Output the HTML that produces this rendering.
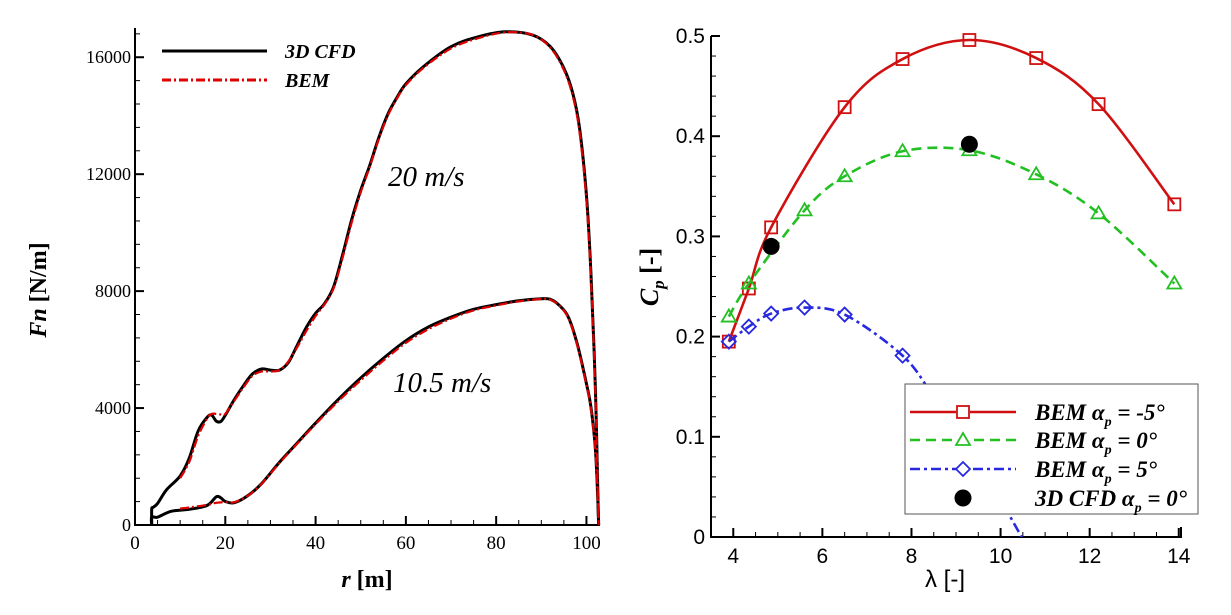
<!DOCTYPE html>
<html><head><meta charset="utf-8">
<style>
html,body{margin:0;padding:0;background:#fff;width:1231px;height:615px;overflow:hidden}
svg{display:block}
.serif{font-family:"Liberation Serif",serif}
.sans{font-family:"Liberation Sans",sans-serif}
</style></head>
<body>
<svg id="fig" width="1231" height="615" viewBox="0 0 1231 615" xmlns="http://www.w3.org/2000/svg">
  <g id="left"></g>
  <g id="right"></g>
</svg>
<script>
// ---------- Left chart data ----------
const r20Cfd = [3.7,3.7,4,5,7,10,12,14,16,17,18,19,20,22,24,26,28,30,32,34,36,38,40,42,44,46,48,50,52,54,56,58,60,64,70,76,82,88,92,95,97,98.5,100,101,102,102.6,102.7];
const fn20Cfd = [0,536,600,737,1207,1676,2280,3218,3688,3755,3554,3540,3755,4292,4761,5164,5338,5298,5298,5566,6169,6773,7242,7578,8150,9250,10450,11450,12300,13250,14050,14618,15090,15692,16362,16697,16870,16764,16362,15625,14752,13545,11265,8580,4560,536,0];
const r20Bem = [10,12,14,16,17,18,19,20,22,24,26,28,30,32,34,36,38,40,42,44,46,48,50,52,54,56,58,60,64,70,76,82,88,92,95,97,98.5,100,101,102,102.6,102.7];
const fn20Bem = [1600,2150,3050,3650,3800,3800,3780,3800,4250,4700,5100,5250,5250,5300,5600,6100,6650,7150,7550,8100,9150,10350,11380,12250,13200,14000,14580,15050,15650,16300,16650,16850,16770,16330,15560,14650,13400,11100,8400,4400,600,0];
const r10Cfd = [3.7,3.7,5,8,12,16,18,19,20,22,25,28,32,36,40,45,50,55,60,65,70,75,80,85,90,92,94,96,98,100,101,102,102.6,102.7];
const fn10Cfd = [0,268,268,469,536,670,966,930,805,764,1006,1408,2146,2816,3487,4292,5030,5700,6304,6773,7108,7377,7538,7672,7739,7720,7511,7108,6169,4828,4024,2548,536,0];
const r10Bem = [10,12,16,18,20,22,25,28,32,36,40,45,50,55,60,65,70,75,80,85,90,92,94,96,98,100,101,102,102.6,102.7];
const fn10Bem = [560,600,690,760,780,780,1000,1400,2120,2790,3450,4230,4950,5620,6230,6700,7060,7340,7510,7650,7730,7710,7500,7080,6130,4780,3980,2500,500,0];
const lxTicks = [0,20,40,60,80,100];
const lyTicks = [0,4000,8000,12000,16000];

// ---------- Right chart data ----------
const lamRed = [3.9,4.35,4.85,6.5,7.8,9.3,10.8,12.2,13.9];
const cpRed = [0.195,0.248,0.309,0.429,0.477,0.496,0.478,0.432,0.332];
const lamGreen = [3.9,4.35,5.6,6.5,7.8,9.3,10.8,12.2,13.9];
const cpGreen = [0.22,0.253,0.326,0.36,0.385,0.386,0.362,0.323,0.253];
const lamBlue = [3.9,4.35,4.85,5.6,6.5,7.8,8.5,9.5,10.6];
const cpBlue = [0.195,0.21,0.223,0.229,0.222,0.181,0.14,0.075,-0.01];
const blueMarkerCount = 6;
const lamCfd = [4.85,9.3];
const cpCfd = [0.29,0.392];
const rxTicks = [4,6,8,10,12,14];
const ryTicks = [0,0.1,0.2,0.3,0.4,0.5];

const NS = "http://www.w3.org/2000/svg";
function mk(parent, tag, attrs){
  const e = document.createElementNS(NS, tag);
  for (const k in attrs) e.setAttribute(k, attrs[k]);
  parent.appendChild(e);
  return e;
}
function smoothPath(pts){
  let d = "M" + pts[0][0].toFixed(2) + "," + pts[0][1].toFixed(2);
  for (let i=0;i<pts.length-1;i++){
    const p0 = pts[Math.max(0,i-1)], p1 = pts[i], p2 = pts[i+1], p3 = pts[Math.min(pts.length-1,i+2)];
    const c1 = [p1[0]+(p2[0]-p0[0])/6, p1[1]+(p2[1]-p0[1])/6];
    const c2 = [p2[0]-(p3[0]-p1[0])/6, p2[1]-(p3[1]-p1[1])/6];
    d += " C"+c1[0].toFixed(2)+","+c1[1].toFixed(2)+" "+c2[0].toFixed(2)+","+c2[1].toFixed(2)+" "+p2[0].toFixed(2)+","+p2[1].toFixed(2);
  }
  return d;
}

// ================= LEFT =================
(function(){
  const g = document.getElementById('left');
  const X0=135, X1=600, Y0=525, Y1=28;
  const xMin=0, xMax=103, yMin=0, yMax=17000;
  const sx = v => X0 + (v-xMin)/(xMax-xMin)*(X1-X0);
  const sy = v => Y0 - (v-yMin)/(yMax-yMin)*(Y0-Y1);
  const clip = mk(g,'clipPath',{id:'clipL'});
  mk(clip,'rect',{x:X0,y:Y1,width:X1-X0+5,height:Y0-Y1});
  const frame = mk(g,'path',{d:`M${X0},${Y1} L${X0},${Y0} L${X1},${Y0}`,fill:'none',stroke:'#000','stroke-width':2});
  
  
  for (let v=0; v<=xMax; v+=5){
    const big = v%20===0;
    const t = mk(g,'line',{x1:sx(v),x2:sx(v),y1:Y0,y2:Y0-(big?9:5),stroke:'#000','stroke-width':big?2:1});
    
    
  }
  for (let v=0; v<=yMax; v+=800){
    const big = v%4000===0;
    const t = mk(g,'line',{x1:X0,x2:X0+(big?9:5),y1:sy(v),y2:sy(v),stroke:'#000','stroke-width':big?2:1});
    
    
  }
  lxTicks.forEach(v=>{
    const t = mk(g,'text',{x:sx(v),y:Y0+24,'text-anchor':'middle','font-size':19,class:'serif'});
    t.textContent = v;
    
    
  });
  lyTicks.forEach(v=>{
    const t = mk(g,'text',{x:X0-4,y:sy(v)+6,'text-anchor':'end','font-size':18,class:'serif'});
    t.textContent = v;
    
    
  });
  const xt = mk(g,'text',{x:367,y:587,'text-anchor':'middle','font-size':24,'font-weight':'bold',class:'serif'});
  xt.innerHTML = '<tspan font-style="italic">r</tspan> [m]';
  
  
  const yt = mk(g,'text',{x:0,y:0,'text-anchor':'middle','font-size':24,'font-weight':'bold',class:'serif',transform:'translate(46,290) rotate(-90)'});
  yt.innerHTML = '<tspan font-style="italic">Fn</tspan> [N/m]';
  
  

  const series = [
    [r20Cfd,fn20Cfd,'#000','none',3,'cfd-20-line'],
    [r10Cfd,fn10Cfd,'#000','none',3,'cfd-10-line'],
    [r20Bem,fn20Bem,'#d00','9,3,2,3',2.2,'bem-20-line'],
    [r10Bem,fn10Bem,'#d00','9,3,2,3',2.2,'bem-10-line']
  ];
  series.forEach(s=>{
    const pts = s[0].map((x,i)=>[sx(x),sy(s[1][i])]);
    const p = mk(g,'path',{d:smoothPath(pts),fill:'none',stroke:s[2],'stroke-width':s[4],'stroke-dasharray':s[3],'clip-path':'url(#clipL)','stroke-linejoin':'round'});
    
    
  });
  const a1 = mk(g,'text',{x:388,y:186,'font-size':29,'font-style':'italic',class:'serif'});
  a1.textContent='20 m/s';
  
  
  const a2 = mk(g,'text',{x:393,y:392,'font-size':29,'font-style':'italic',class:'serif'});
  a2.textContent='10.5 m/s';
  
  
  const lg = mk(g,'g',{});
  
  
  mk(lg,'line',{x1:162,x2:267,y1:51,y2:51,stroke:'#000','stroke-width':3});
  mk(lg,'line',{x1:162,x2:267,y1:80,y2:80,stroke:'#d00','stroke-width':3,'stroke-dasharray':'9,3,2,3'});
  const l1 = mk(lg,'text',{x:285,y:58,'font-size':20,'font-weight':'bold','font-style':'italic',class:'serif'});
  l1.textContent='3D CFD';
  
  
  const l2 = mk(lg,'text',{x:285,y:87,'font-size':20,'font-weight':'bold','font-style':'italic',class:'serif'});
  l2.textContent='BEM';
  
  
})();

// ================= RIGHT =================
(function(){
  const g = document.getElementById('right');
  const X0=711, X1=1181, Y0=537, Y1=36;
  const xMin=3.5, xMax=14.05, yMin=0, yMax=0.5;
  const sx = v => X0 + (v-xMin)/(xMax-xMin)*(X1-X0);
  const sy = v => Y0 - (v-yMin)/(yMax-yMin)*(Y0-Y1);
  const clip = mk(g,'clipPath',{id:'clipR'});
  mk(clip,'rect',{x:X0,y:Y1-10,width:X1-X0+10,height:Y0-Y1+10});
  const frame = mk(g,'path',{d:`M${X0},${Y1} L${X0},${Y0} L${X1},${Y0} L${X1},${Y0-10}`,fill:'none',stroke:'#000','stroke-width':2});
  
  
  for (let v=4; v<=14.001; v+=0.5){
    const big = Math.abs(v-Math.round(v/2)*2)<1e-6;
    const t = mk(g,'line',{x1:sx(v),x2:sx(v),y1:Y0,y2:Y0-(big?9:5),stroke:'#000','stroke-width':big?2:1});
    
    
  }
  for (let i=0;i<=25;i++){
    const v=i*0.02, big=i%5===0;
    const t = mk(g,'line',{x1:X0,x2:X0+(big?9:5),y1:sy(v),y2:sy(v),stroke:'#000','stroke-width':big?2:1});
    
    
  }
  rxTicks.forEach(v=>{
    const t = mk(g,'text',{x:sx(v),y:Y0+26,'text-anchor':'middle','font-size':21,class:'sans'});
    t.textContent=v;
    
    
  });
  ryTicks.forEach(v=>{
    const t = mk(g,'text',{x:X0-6,y:sy(v)+7,'text-anchor':'end','font-size':21,class:'sans'});
    t.textContent=v===0?'0':v.toFixed(1);
    
    
  });
  const xt = mk(g,'text',{x:945,y:587,'text-anchor':'middle','font-size':24,class:'sans'});
  xt.textContent='λ [-]';
  
  
  const yt = mk(g,'text',{x:0,y:0,'text-anchor':'middle','font-size':26,'font-weight':'bold',class:'serif',transform:'translate(658,277) rotate(-90)'});
  yt.innerHTML='<tspan font-style="italic">C</tspan><tspan font-style="italic" font-size="17" dy="6">p</tspan><tspan dy="-6"> [-]</tspan>';
  
  

  function marker(parent, kind, x, y, color){
    let e;
    if (kind==='sq') e = mk(parent,'rect',{x:x-6,y:y-6,width:12,height:12,fill:'none',stroke:color,'stroke-width':1.8});
    else if (kind==='tri') e = mk(parent,'path',{d:`M${x},${y-7} L${x+7},${y+5} L${x-7},${y+5} Z`,fill:'none',stroke:color,'stroke-width':1.8});
    else if (kind==='dia') e = mk(parent,'path',{d:`M${x},${y-7} L${x+7},${y} L${x},${y+7} L${x-7},${y} Z`,fill:'none',stroke:color,'stroke-width':1.8});
    else e = mk(parent,'circle',{cx:x,cy:y,r:8.5,fill:'#000'});
    return e;
  }
  const series = [
    [lamRed,cpRed,'#d01010','none','sq',lamRed.length,'bem-minus5-line'],
    [lamGreen,cpGreen,'#22c022','10,6','tri',lamGreen.length,'bem-0-line'],
    [lamBlue,cpBlue,'#2828e0','10,4,3,4','dia',blueMarkerCount,'bem-plus5-line']
  ];
  series.forEach(s=>{
    const pts = s[0].map((x,i)=>[sx(x),sy(s[1][i])]);
    const p = mk(g,'path',{d:smoothPath(pts),fill:'none',stroke:s[2],'stroke-width':2.6,'stroke-dasharray':s[3],'clip-path':'url(#clipR)'});
    
    
    for (let i=0;i<s[5];i++){
      const m = marker(g,s[4],sx(s[0][i]),sy(s[1][i]),s[2]);
      
      
    }
  });
  lamCfd.forEach((x,i)=>{
    const m = marker(g,'dot',sx(x),sy(cpCfd[i]),'#000');
    
    
  });
  const lg = mk(g,'g',{});
  
  
  mk(lg,'rect',{x:905,y:384,width:293,height:130,fill:'#fff',stroke:'#555','stroke-width':1});
  const items = [
    ['#d01010','none','sq','-5°',412],
    ['#22c022','10,6','tri','0°',440],
    ['#2828e0','10,4,3,4','dia','5°',469]
  ];
  items.forEach(it=>{
    mk(lg,'line',{x1:910,x2:1016,y1:it[4],y2:it[4],stroke:it[0],'stroke-width':2.6,'stroke-dasharray':it[1]});
    mk(lg,'rect',{x:956,y:it[4]-7,width:14,height:14,fill:'#fff'});
    marker(lg,it[2],963,it[4],it[0]);
    const t = mk(lg,'text',{x:1035,y:it[4]+8,'font-size':23,'font-weight':'bold','font-style':'italic',class:'serif'});
    t.innerHTML = 'BEM α<tspan font-size="14" dy="6">p</tspan><tspan dy="-6"> = '+it[3]+'</tspan>';
    
    
  });
  marker(lg,'dot',963,498,'#000');
  const t4 = mk(lg,'text',{x:1035,y:506,'font-size':23,'font-weight':'bold','font-style':'italic',class:'serif'});
  t4.innerHTML = '3D CFD α<tspan font-size="14" dy="6">p</tspan><tspan dy="-6"> = 0°</tspan>';
  
  
})();
</script>
</body></html>
